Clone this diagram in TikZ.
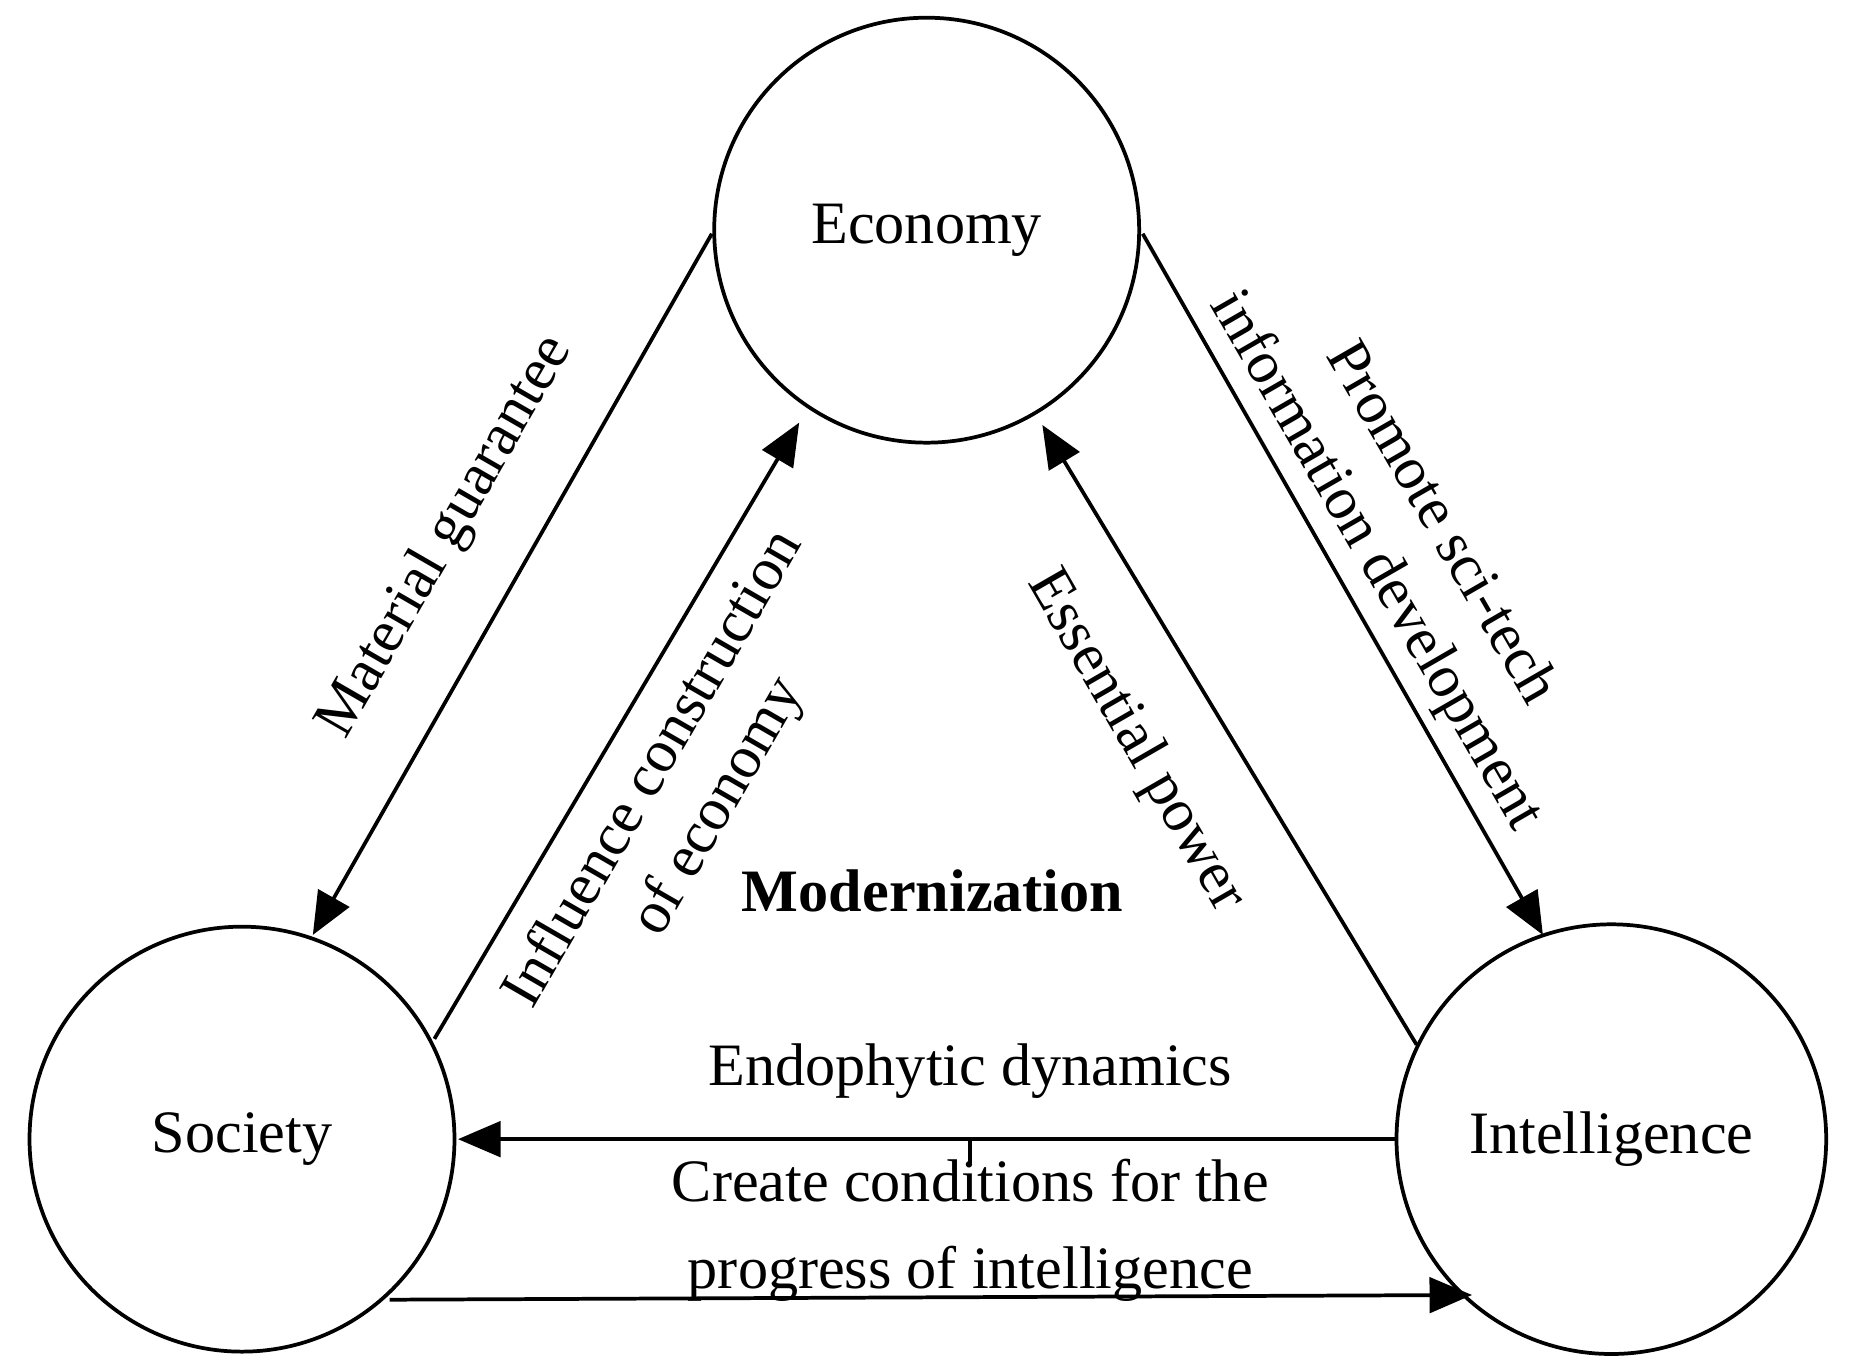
\documentclass[tikz,border=0pt]{standalone}
\usepackage{fontspec}
\setmainfont{Liberation Serif}
\usetikzlibrary{arrows.meta}
\begin{document}
\begin{tikzpicture}[x=0.01cm,y=-0.01cm,
  circ/.style={draw,circle,line width=0.9pt,inner sep=0pt},
  con/.style={line width=0.9pt,-{Triangle[length=0.36cm,width=0.3cm]}},
  lbl/.style={font=\fontsize{14.5}{18}\selectfont,align=center}]
\useasboundingbox (0,0) rectangle (1568,1155);
\node[circ,minimum size=360*0.01cm] (E) at (785,195) {};
\node[lbl] at (785,195) {Economy};
\node[circ,minimum size=360*0.01cm] (S) at (205,965) {};
\node[lbl] at (205,965) {Society};
\node[circ,minimum size=364*0.01cm] (I) at (1365,965) {};
\node[lbl] at (1365,965) {Intelligence};
\coordinate (a1) at (603,198); \coordinate (a2) at (265,792);
\coordinate (b1) at (368,880); \coordinate (b2) at (677,358);
\coordinate (c1) at (968,198); \coordinate (c2) at (1307,792);
\coordinate (d1) at (1200,885); \coordinate (d2) at (883,360);
\coordinate (e1) at (1183,965); \coordinate (e2) at (388,965);
\coordinate (f1) at (330,1101); \coordinate (f2) at (1247,1097);
\coordinate (t1) at (822,965); \coordinate (t2) at (822,985);
\draw[con] (a1) -- (a2);
\draw[con] (b1) -- (b2);
\draw[con] (c1) -- (c2);
\draw[con] (d1) -- (d2);
\draw[con] (e1) -- (e2);
\draw[con] (f1) -- (f2);
\draw[line width=0.9pt] (t1) -- (t2);
\node[lbl,rotate=60] at (378,455) {Material guarantee};
\node[lbl,rotate=60] at (582,668) {Influence construction\\of economy};
\node[lbl,rotate=-60] at (962,628) {Essential power};
\node[lbl,rotate=-60] at (1192,460) {Promote sci-tech\\information development};
\node[lbl,font=\fontsize{14.5}{18}\selectfont\bfseries] at (790,755) {Modernization};
\node[lbl] at (822,907) {Endophytic dynamics};
\node[lbl,font=\fontsize{14.5}{21}\selectfont] at (822,1042) {Create conditions for the\\progress of intelligence};
\end{tikzpicture}
\end{document}
